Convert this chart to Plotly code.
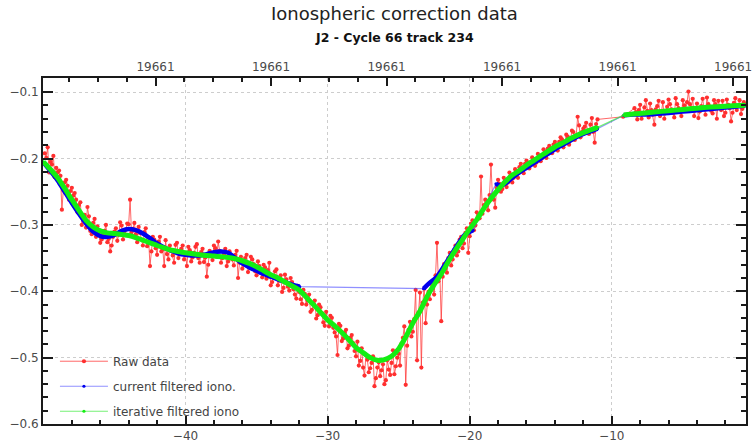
import plotly.graph_objects as go

# ---------------- data ----------------
# raw samples (two interleaved reading passes, merged and sorted below)
raw_x_a = [
    -49.9, -49.7, -49.5, -49.3, -49.1, -48.9, -48.7, -48.5, -48.3, -48.1,
    -47.9, -47.7, -47.5, -47.3, -47.1, -46.9, -46.7, -46.5, -46.3, -46.1,
    -45.9, -45.7, -45.5, -45.3, -45.1, -44.9, -44.7, -44.5, -44.3, -44.1,
    -43.9, -43.7, -43.5, -43.3, -43.1, -42.9, -42.7, -42.5, -42.3, -42.1,
    -41.9, -41.7, -41.5, -41.3, -41.1, -40.9, -40.7, -40.5, -40.3, -40.1,
    -39.9, -39.7, -39.5, -39.3, -39.1, -38.9, -38.7, -38.5, -38.3, -38.1,
    -37.9, -37.7, -37.5, -37.3, -37.1, -36.9, -36.7, -36.5, -36.3, -36.1,
    -35.9, -35.7, -35.5, -35.3, -35.1, -34.9, -34.7, -34.5, -34.3, -34.1,
    -33.9, -33.7, -33.5, -33.3, -33.1, -32.9, -32.7, -32.5, -32.3, -32.1,
    -31.9, -31.7, -31.5, -31.3, -31.1, -30.9, -30.7, -30.5, -30.3, -30.1,
    -29.9, -29.7, -29.5, -29.3, -29.1, -28.9, -28.7, -28.5, -28.3, -28.1,
    -27.9, -27.7, -27.5, -27.3, -27.1, -26.9, -26.7, -26.5, -26.3, -26.1,
    -25.9, -25.7, -25.5, -25.3, -25.1, -24.9, -24.7, -24.6, -24.5, -24.3,
    -24.1, -23.9, -23.8, -23.7, -23.6, -23.5, -23.4, -23.3, -23.2, -23.1,
    -22.9, -22.7, -22.5, -22.4, -22.3, -22.2, -22.0, -21.9, -21.7, -21.5,
    -21.3, -21.1, -20.9, -20.7, -20.5, -20.3, -20.1, -19.9, -19.7, -19.5,
    -19.3, -19.2, -19.1, -18.9, -18.7, -18.5, -18.4, -18.2, -18.0, -17.8,
    -17.6, -17.4, -17.2, -17.0, -16.8, -16.6, -16.4, -16.2, -16.0, -15.8,
    -15.6, -15.4, -15.2, -15.0, -14.8, -14.6, -14.4, -14.2, -14.0, -13.8,
    -13.6, -13.4, -13.2, -13.0, -12.8, -12.6, -12.4, -12.2, -12.0, -11.8,
    -11.6, -11.4, -11.2, -11.0, -9.2,
    -8.4, -8.2, -8.0, -7.8, -7.6, -7.4, -7.2, -7.0, -6.8, -6.6,
    -6.4, -6.2, -6.0, -5.8, -5.6, -5.4, -5.2, -5.0, -4.8, -4.6,
    -4.4, -4.2, -4.0, -3.8, -3.6, -3.4, -3.2, -3.0, -2.8, -2.6,
    -2.4, -2.2, -2.0, -1.8, -1.6, -1.4, -1.2, -1.0, -0.8, -0.6,
]
raw_y_a = [
    -0.192, -0.183, -0.205, -0.196, -0.214, -0.218, -0.277, -0.236, -0.241, -0.249,
    -0.256, -0.262, -0.270, -0.300, -0.285, -0.273, -0.309, -0.297, -0.318, -0.312,
    -0.322, -0.309, -0.326, -0.340, -0.318, -0.305, -0.315, -0.301, -0.310, -0.298,
    -0.262, -0.306, -0.314, -0.303, -0.322, -0.311, -0.332, -0.362, -0.318, -0.335,
    -0.325, -0.340, -0.362, -0.344, -0.331, -0.346, -0.330, -0.350, -0.336, -0.352,
    -0.362, -0.338, -0.349, -0.333, -0.350, -0.341, -0.356, -0.378, -0.339, -0.353,
    -0.335, -0.325, -0.357, -0.344, -0.362, -0.340, -0.352, -0.345, -0.380, -0.348,
    -0.360, -0.345, -0.364, -0.352, -0.370, -0.355, -0.372, -0.360, -0.381, -0.357,
    -0.386, -0.370, -0.391, -0.376, -0.395, -0.382, -0.399, -0.386, -0.405, -0.392,
    -0.412, -0.398, -0.420, -0.405, -0.428, -0.414, -0.436, -0.424, -0.447, -0.431,
    -0.453, -0.440, -0.462, -0.496, -0.452, -0.471, -0.458, -0.482, -0.466, -0.490,
    -0.476, -0.505, -0.515, -0.496, -0.522, -0.508, -0.543, -0.515, -0.528, -0.510,
    -0.534, -0.518, -0.508, -0.525, -0.500, -0.512, -0.470, -0.453, -0.541, -0.458,
    -0.468, -0.442, -0.398, -0.504, -0.432, -0.402, -0.515, -0.417, -0.396, -0.448,
    -0.401, -0.389, -0.405, -0.376, -0.327, -0.385, -0.445, -0.378, -0.366, -0.350,
    -0.361, -0.338, -0.346, -0.322, -0.335, -0.312, -0.342, -0.298, -0.308, -0.281,
    -0.290, -0.227, -0.283, -0.262, -0.278, -0.209, -0.255, -0.274, -0.232, -0.250,
    -0.229, -0.243, -0.221, -0.236, -0.216, -0.229, -0.208, -0.222, -0.203, -0.215,
    -0.198, -0.211, -0.193, -0.204, -0.186, -0.199, -0.181, -0.192, -0.175, -0.188,
    -0.168, -0.183, -0.164, -0.179, -0.158, -0.172, -0.137, -0.168, -0.155, -0.146,
    -0.163, -0.139, -0.176, -0.141, -0.137,
    -0.124, -0.141, -0.119, -0.133, -0.112, -0.138, -0.127, -0.149, -0.121, -0.136,
    -0.115, -0.131, -0.111, -0.126, -0.138, -0.118, -0.130, -0.112, -0.127, -0.099,
    -0.124, -0.136, -0.117, -0.129, -0.110, -0.134, -0.118, -0.128, -0.112, -0.140,
    -0.121, -0.113, -0.131, -0.119, -0.144, -0.116, -0.127, -0.112, -0.125, -0.118,
]
raw_x_b = [
    -49.8, -49.6, -49.4, -49.2, -49.0, -48.8, -48.6, -48.4, -48.2, -48.0,
    -47.8, -47.6, -47.4, -47.2, -47.0, -46.8, -46.6, -46.4, -46.2, -46.0,
    -45.8, -45.6, -45.4, -45.2, -45.0, -44.8, -44.6, -44.4, -44.2, -44.0,
    -43.8, -43.6, -43.4, -43.2, -43.0, -42.8, -42.6, -42.4, -42.2, -42.0,
    -41.8, -41.6, -41.4, -41.2, -41.0, -40.8, -40.6, -40.4, -40.2, -40.0,
    -39.8, -39.6, -39.4, -39.2, -39.0, -38.8, -38.6, -38.4, -38.2, -38.0,
    -37.8, -37.6, -37.4, -37.2, -37.0, -36.8, -36.6, -36.4, -36.2, -36.0,
    -35.8, -35.6, -35.4, -35.2, -35.0, -34.8, -34.6, -34.4, -34.2, -34.0,
    -33.8, -33.6, -33.4, -33.2, -33.0, -32.8, -32.6, -32.4, -32.2, -32.0,
    -31.8, -31.6, -31.4, -31.2, -31.0, -30.8, -30.6, -30.4, -30.2, -30.0,
    -29.8, -29.6, -29.4, -29.2, -29.0, -28.8, -28.6, -28.4, -28.2, -28.0,
    -27.8, -27.6, -27.4, -27.2, -27.0, -26.8, -26.6, -26.4, -26.2, -26.0,
    -25.8, -25.6, -25.4, -25.2, -25.0, -24.8, -24.4, -24.2, -24.0,
    -23.0, -22.8, -22.6, -22.1, -21.8, -21.6, -21.4, -21.2, -21.0, -20.8,
    -20.6, -20.4, -20.2, -20.0, -19.8, -19.6, -19.4, -19.0, -18.8, -18.6,
    -18.3, -18.1, -17.9, -17.7, -17.5, -17.3, -17.1, -16.9, -16.7, -16.5,
    -16.3, -16.1, -15.9, -15.7, -15.5, -15.3, -15.1, -14.9, -14.7, -14.5,
    -14.3, -14.1, -13.9, -13.7, -13.5, -13.3, -13.1, -12.9, -12.7, -12.5,
    -12.3, -12.1, -11.9, -11.7, -11.5, -11.3, -11.1,
    -8.3, -8.1, -7.9, -7.7, -7.5, -7.3, -7.1, -6.9, -6.7, -6.5,
    -6.3, -6.1, -5.9, -5.7, -5.5, -5.3, -5.1, -4.9, -4.7, -4.5,
    -4.3, -4.1, -3.9, -3.7, -3.5, -3.3, -3.1, -2.9, -2.7, -2.5,
    -2.3, -2.1, -1.9, -1.7, -1.5, -1.3, -1.1, -0.9, -0.7,
]
raw_y_b = [
    -0.199, -0.221, -0.209, -0.228, -0.221, -0.226, -0.248, -0.232, -0.262, -0.244,
    -0.252, -0.281, -0.266, -0.293, -0.304, -0.287, -0.314, -0.291, -0.302, -0.327,
    -0.316, -0.300, -0.321, -0.331, -0.310, -0.324, -0.296, -0.322, -0.307, -0.299,
    -0.311, -0.297, -0.326, -0.312, -0.331, -0.305, -0.319, -0.340, -0.322, -0.345,
    -0.318, -0.337, -0.323, -0.352, -0.339, -0.357, -0.327, -0.344, -0.331, -0.345,
    -0.333, -0.355, -0.342, -0.329, -0.357, -0.336, -0.349, -0.360, -0.344, -0.331,
    -0.348, -0.339, -0.350, -0.336, -0.355, -0.346, -0.361, -0.339, -0.357, -0.366,
    -0.350, -0.371, -0.348, -0.359, -0.376, -0.362, -0.379, -0.364, -0.368, -0.391,
    -0.379, -0.367, -0.384, -0.401, -0.375, -0.393, -0.380, -0.397, -0.411, -0.401,
    -0.419, -0.404, -0.414, -0.431, -0.418, -0.441, -0.420, -0.433, -0.452, -0.444,
    -0.437, -0.455, -0.468, -0.449, -0.475, -0.462, -0.486, -0.470, -0.478, -0.498,
    -0.512, -0.486, -0.527, -0.503, -0.516, -0.498, -0.531, -0.507, -0.519, -0.540,
    -0.504, -0.526, -0.489, -0.513, -0.494, -0.479, -0.482, -0.446, -0.461,
    -0.420, -0.412, -0.396, -0.372, -0.359, -0.372, -0.342, -0.352, -0.331, -0.340,
    -0.318, -0.328, -0.305, -0.317, -0.293, -0.301, -0.288, -0.270, -0.271, -0.255,
    -0.262, -0.244, -0.238, -0.246, -0.233, -0.236, -0.225, -0.229, -0.220, -0.213,
    -0.219, -0.208, -0.212, -0.206, -0.201, -0.206, -0.196, -0.199, -0.190, -0.185,
    -0.190, -0.179, -0.183, -0.175, -0.171, -0.177, -0.167, -0.172, -0.160, -0.165,
    -0.150, -0.160, -0.152, -0.158, -0.149, -0.160, -0.148,
    -0.130, -0.127, -0.140, -0.123, -0.128, -0.117, -0.134, -0.126, -0.113, -0.129,
    -0.140, -0.122, -0.118, -0.131, -0.109, -0.124, -0.136, -0.120, -0.115, -0.118,
    -0.110, -0.127, -0.139, -0.121, -0.125, -0.108, -0.122, -0.132, -0.118, -0.113,
    -0.127, -0.136, -0.111, -0.124, -0.131, -0.109, -0.121, -0.133, -0.115,
]

current_x = [
    -50.0, -49.5, -49.0, -48.5, -48.0, -47.5, -47.0, -46.5, -46.0, -45.5,
    -45.0, -44.5, -44.0, -43.5, -43.0, -42.5, -42.0, -41.5, -41.0, -40.5,
    -40.0, -39.5, -39.0, -38.5, -38.0, -37.5, -37.0, -36.5, -36.0, -35.5,
    -35.0, -34.5, -34.0, -33.5, -33.0, -32.5, -31.96,
    -23.24, -22.8, -22.3, -21.8, -21.3, -20.8, -20.35, -20.05, -19.76,
    -18.15, -17.8, -17.45, -17.0, -16.5, -16.0, -15.5, -15.0, -14.5, -14.0,
    -13.5, -13.0, -12.5, -12.0, -11.5, -11.0,
    -9.15, -8.45, -7.5, -6.5, -5.5, -4.5, -3.5, -2.5, -1.5, -0.6,
]
current_y = [
    -0.206, -0.219, -0.233, -0.250, -0.267, -0.283, -0.298, -0.310, -0.317, -0.318,
    -0.315, -0.309, -0.306, -0.308, -0.313, -0.320, -0.328, -0.334, -0.339, -0.343,
    -0.345, -0.346, -0.346, -0.344, -0.341, -0.340, -0.342, -0.350, -0.358, -0.364,
    -0.369, -0.374, -0.378, -0.382, -0.386, -0.390, -0.393,
    -0.396, -0.387, -0.378, -0.362, -0.345, -0.328, -0.315, -0.311, -0.308,
    -0.238, -0.241, -0.237, -0.229, -0.221, -0.214, -0.207, -0.200, -0.193, -0.186,
    -0.180, -0.174, -0.168, -0.163, -0.159, -0.155,
    -0.1347, -0.1336, -0.1336, -0.1322, -0.1302, -0.1282, -0.1262, -0.1242, -0.1222, -0.1202,
]

iterative_x = [
    -50.0, -49.5, -49.0, -48.5, -48.0, -47.5, -47.0, -46.5, -46.0, -45.5,
    -45.0, -44.5, -44.0, -43.5, -43.0, -42.5, -42.0, -41.5, -41.0, -40.5,
    -40.0, -39.0, -38.0, -37.0, -36.5, -36.0, -35.5, -35.0, -34.5, -34.0,
    -33.5, -33.0, -32.5, -32.0, -31.5, -31.0, -30.5, -30.0, -29.5, -29.0,
    -28.5, -28.0, -27.5, -27.0, -26.5, -26.0, -25.5, -25.0, -24.5, -24.0,
    -23.5, -23.0, -22.5, -22.0, -21.5, -21.0, -20.5, -20.0, -19.5, -19.0,
    -18.5, -18.0, -17.5, -17.0, -16.5, -16.0, -15.5, -15.0, -14.5, -14.0,
    -13.5, -13.0, -12.5, -12.0, -11.5, -11.0,
    -9.15, -8.4, -7.5, -6.5, -5.5, -4.5, -3.5, -2.5, -1.5, -0.6,
]
iterative_y = [
    -0.205, -0.2165, -0.229, -0.245, -0.262, -0.278, -0.293, -0.303, -0.309, -0.312,
    -0.313, -0.3145, -0.316, -0.319, -0.323, -0.327, -0.331, -0.3345, -0.338, -0.340,
    -0.342, -0.345, -0.347, -0.349, -0.351, -0.354, -0.358, -0.363, -0.369, -0.375,
    -0.380, -0.386, -0.392, -0.398, -0.409, -0.420, -0.4315, -0.443, -0.452, -0.462,
    -0.473, -0.485, -0.4925, -0.500, -0.504, -0.503, -0.498, -0.487, -0.469, -0.448,
    -0.430, -0.408, -0.390, -0.374, -0.355, -0.338, -0.322, -0.306, -0.292, -0.275,
    -0.260, -0.247, -0.235, -0.225, -0.218, -0.210, -0.203, -0.196, -0.189, -0.1825,
    -0.177, -0.171, -0.1655, -0.161, -0.157, -0.153,
    -0.1345, -0.1326, -0.131, -0.1289, -0.127, -0.1251, -0.1232, -0.1218, -0.1206, -0.1196,
]

x_tick_values = [-40, -30, -20, -10]
y_tick_values = [-0.6, -0.5, -0.4, -0.3, -0.2, -0.1]
top_tick_values = [-42.108, -33.978, -25.848, -17.718, -9.588, -1.458]
top_tick_labels = ["19661", "19661", "19661", "19661", "19661", "19661"]

title_text = "Ionospheric correction data"
subtitle_text = "J2 - Cycle 66 track 234"
series_names = ["Raw data", "current filtered iono.", "iterative filtered iono"]

# merge the raw sample lists in along-track order
_raw = sorted(zip(raw_x_a + raw_x_b, raw_y_a + raw_y_b))
raw_x = [p[0] for p in _raw]
raw_y = [p[1] for p in _raw]


def split_gaps(xs, ys, max_gap=1.2):
    """Insert None where consecutive samples are far apart (thick segments)."""
    sx, sy = [], []
    for i, (xv, yv) in enumerate(zip(xs, ys)):
        if i > 0 and xv - xs[i - 1] > max_gap:
            sx.append(None)
            sy.append(None)
        sx.append(xv)
        sy.append(yv)
    return sx, sy


X_RANGE = [-50.03, -0.55]
Y_RANGE = [-0.6, -0.0786]
FONT = "DejaVu Sans"
GREEN = "#13ee13"
BLUE = "#0000ee"

fig = go.Figure()

# Raw data
fig.add_trace(go.Scatter(
    x=raw_x, y=raw_y, mode="lines+markers", name=series_names[0],
    legendgroup="g1",
    line=dict(color="rgba(255,40,40,0.7)", width=1),
    marker=dict(color="#ff2f2f", size=4.2, line=dict(width=0)),
))

# current filtered iono (thin full path + thick segments)
fig.add_trace(go.Scatter(
    x=current_x, y=current_y, mode="lines+markers", name=series_names[1],
    legendgroup="g2",
    line=dict(color="rgba(70,70,255,0.6)", width=1.2),
    marker=dict(color=BLUE, size=3.2, line=dict(width=0)),
))
bx, by = split_gaps(current_x, current_y)
fig.add_trace(go.Scatter(
    x=bx, y=by, mode="lines", showlegend=False, hoverinfo="skip",
    line=dict(color=BLUE, width=4.5, shape="spline", smoothing=0.6),
    connectgaps=False,
))

# iterative filtered iono
fig.add_trace(go.Scatter(
    x=iterative_x, y=iterative_y, mode="lines+markers", name=series_names[2],
    legendgroup="g3",
    line=dict(color="rgba(60,235,60,0.7)", width=1.2),
    marker=dict(color=GREEN, size=3.2, line=dict(width=0)),
))
gx, gy = split_gaps(iterative_x, iterative_y)
fig.add_trace(go.Scatter(
    x=gx, y=gy, mode="lines", showlegend=False, hoverinfo="skip",
    xaxis="x2",
    line=dict(color=GREEN, width=5, shape="spline", smoothing=0.6),
    connectgaps=False,
))

axis_color = "#1a1a1a"
label_color = "#4a4a4a"
grid_color = "#cdcdcd"

fig.update_layout(
    width=753, height=447,
    margin=dict(l=43, r=1, t=78, b=23, pad=0),
    paper_bgcolor="white", plot_bgcolor="white",
    font=dict(family=FONT, size=12, color=label_color),
    showlegend=True,
    legend=dict(
        x=0.017, y=-0.005, xanchor="left", yanchor="bottom",
        bgcolor="rgba(0,0,0,0)", borderwidth=0, itemwidth=48,
        font=dict(family=FONT, size=12, color="#444"),
        traceorder="grouped", tracegroupgap=6,
    ),
    xaxis=dict(
        range=X_RANGE, tickmode="array", tickvals=x_tick_values,
        ticks="inside", ticklen=8, tickwidth=2, tickcolor=axis_color,
        showline=True, linecolor=axis_color, linewidth=2,
        showgrid=True, gridcolor=grid_color, gridwidth=1, griddash="dot",
        zeroline=False, ticklabelstandoff=0,
        tickfont=dict(family=FONT, size=12, color=label_color),
        minor=dict(tick0=0, dtick=2, ticks="inside", ticklen=4, tickwidth=1.5,
                   tickcolor=axis_color, showgrid=False),
    ),
    xaxis2=dict(
        range=X_RANGE, overlaying="x", side="top", anchor="y",
        tickmode="array", tickvals=top_tick_values, ticktext=top_tick_labels,
        ticks="inside", ticklen=8, tickwidth=2, tickcolor=axis_color,
        showline=True, linecolor=axis_color, linewidth=2,
        showgrid=False, zeroline=False, ticklabelstandoff=0,
        ticklabeloverflow="allow",
        tickfont=dict(family=FONT, size=12, color=label_color),
        minor=dict(tick0=-1.458, dtick=2.0325, ticks="inside", ticklen=4,
                   tickwidth=1.5, tickcolor=axis_color, showgrid=False),
    ),
    yaxis=dict(
        range=Y_RANGE, tickmode="array", tickvals=y_tick_values,
        ticks="inside", ticklen=10, tickwidth=2, tickcolor=axis_color,
        showline=True, linecolor=axis_color, linewidth=2, mirror="ticks",
        showgrid=True, gridcolor=grid_color, gridwidth=1, griddash="dot",
        zeroline=False, ticklabelstandoff=0,
        tickfont=dict(family=FONT, size=12, color=label_color),
        minor=dict(dtick=0.02, tick0=0, ticks="inside", ticklen=5, tickwidth=1.5,
                   tickcolor=axis_color, showgrid=False),
    ),
    annotations=[
        dict(text=title_text, xref="paper", yref="paper", x=0.5, y=1.185,
             xanchor="center", yanchor="middle", showarrow=False,
             font=dict(family=FONT, size=18, color="#222")),
        dict(text="<b>" + subtitle_text + "</b>", xref="paper", yref="paper",
             x=0.5, y=1.116, xanchor="center", yanchor="middle", showarrow=False,
             font=dict(family=FONT, size=12.5, color="#111")),
    ],
)

fig.write_html(
    "out.html",
    config={"displayModeBar": False},
    post_script="document.body.style.margin='0px';",
)
